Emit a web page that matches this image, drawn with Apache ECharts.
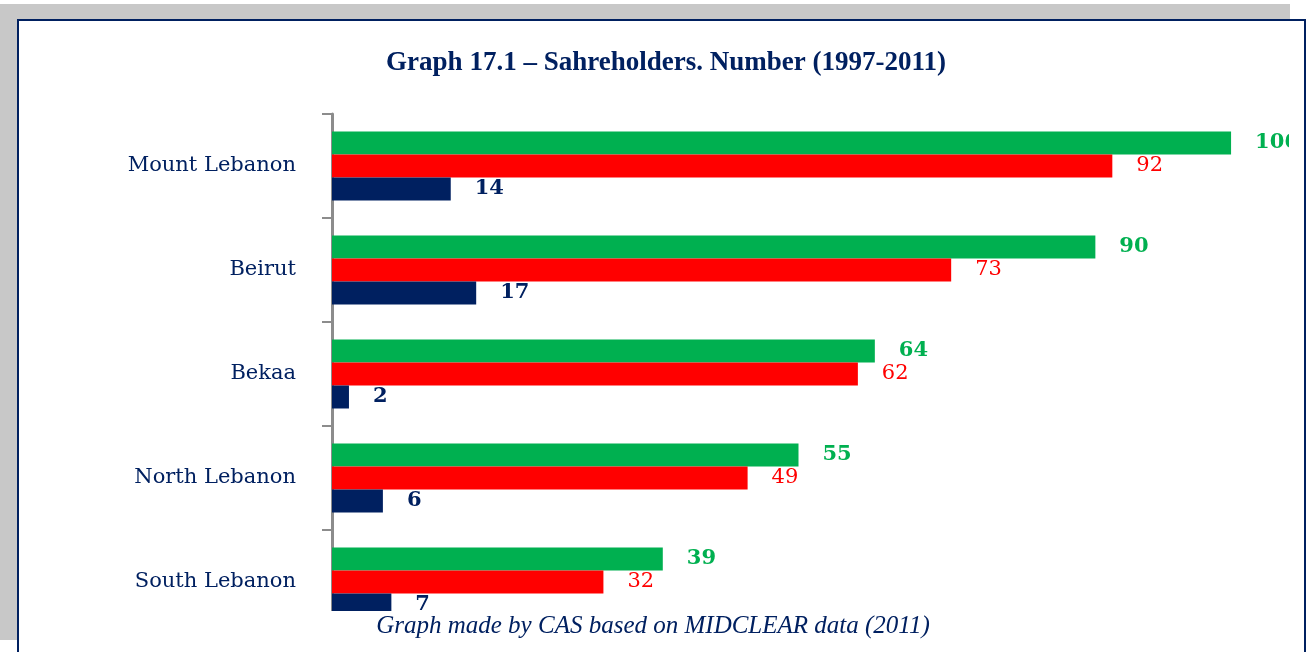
<!DOCTYPE html>
<html>
<head>
<meta charset="utf-8">
<script src="https://cdn.jsdelivr.net/npm/echarts@6/dist/echarts.min.js"></script>
<style>
  html, body { margin: 0; padding: 0; background: #fff; }
  #chart { width: 1306px; height: 652px; }
</style>
</head>
<body>
<div id="chart"></div>
<script>
// regions, top to bottom
var regions = ['Mount Lebanon', 'Beirut', 'Bekaa', 'North Lebanon', 'South Lebanon']
// three series, drawn green / red / navy inside each band
var greenValues = [106, 90, 64, 55, 39]
var redValues = [92, 73, 62, 49, 32]
var navyValues = [14, 17, 2, 6, 7]

var navy = '#002060'
var serif = '"DejaVu Serif", serif'

var chart = echarts.init(document.getElementById('chart'))

function barSeries(name, data, color, bold) {
  return {
    name: name,
    type: 'bar',
    data: data,
    barWidth: 23,
    barGap: '0%',
    itemStyle: { color: color },
    label: {
      show: true,
      position: 'right',
      distance: 24,
      color: color,
      fontFamily: serif,
      fontSize: 21,
      fontWeight: bold ? 'bold' : 'normal'
    },
    animation: false
  }
}

chart.setOption({
  animation: false,
  title: {
    text: 'Graph 17.1 – Sahreholders. Number (1997-2011)',
    left: 661,
    textAlign: 'center',
    top: 45,
    textStyle: {
      fontFamily: '"Liberation Serif", serif',
      fontWeight: 'bold',
      fontSize: 27,
      color: navy
    }
  },
  grid: {
    left: 332,
    right: 41,
    top: 114,
    bottom: 18
  },
  xAxis: {
    type: 'value',
    min: 0,
    max: 110,
    show: false
  },
  yAxis: {
    type: 'category',
    data: regions,
    inverse: true,
    axisLine: { show: true, lineStyle: { color: '#8c8c8c', width: 3 } },
    axisTick: { show: true, length: 10, lineStyle: { color: '#8c8c8c', width: 2 } },
    axisLabel: {
      margin: 36,
      color: navy,
      fontFamily: serif,
      fontSize: 21
    }
  },
  series: [
    barSeries('g', greenValues, '#00B050', true),
    barSeries('r', redValues, '#FF0000', false),
    barSeries('n', navyValues, navy, true)
  ],
  graphic: [
    // grey frame behind the panel
    { type: 'rect', z: -10, shape: { x: 0, y: 4, width: 1290, height: 636 }, style: { fill: '#c8c8c8' } },
    { type: 'rect', z: -9, shape: { x: 18, y: 20, width: 1287, height: 640 },
      style: { fill: '#fff', stroke: navy, lineWidth: 2 } },
    // the source picture is cut off at the bottom and on the right
    { type: 'rect', z: 100, shape: { x: 20, y: 611, width: 1284, height: 41 }, style: { fill: '#fff' } },
    { type: 'rect', z: 100, shape: { x: 1289, y: 100, width: 15, height: 100 }, style: { fill: '#fff' } },
    {
      type: 'text', z: 101, left: 'center', top: 614,
      style: {
        text: 'Graph made by CAS based on MIDCLEAR data (2011)',
        fill: navy,
        font: 'italic 25px "Liberation Serif", serif'
      }
    }
  ]
})
</script>
</body>
</html>
